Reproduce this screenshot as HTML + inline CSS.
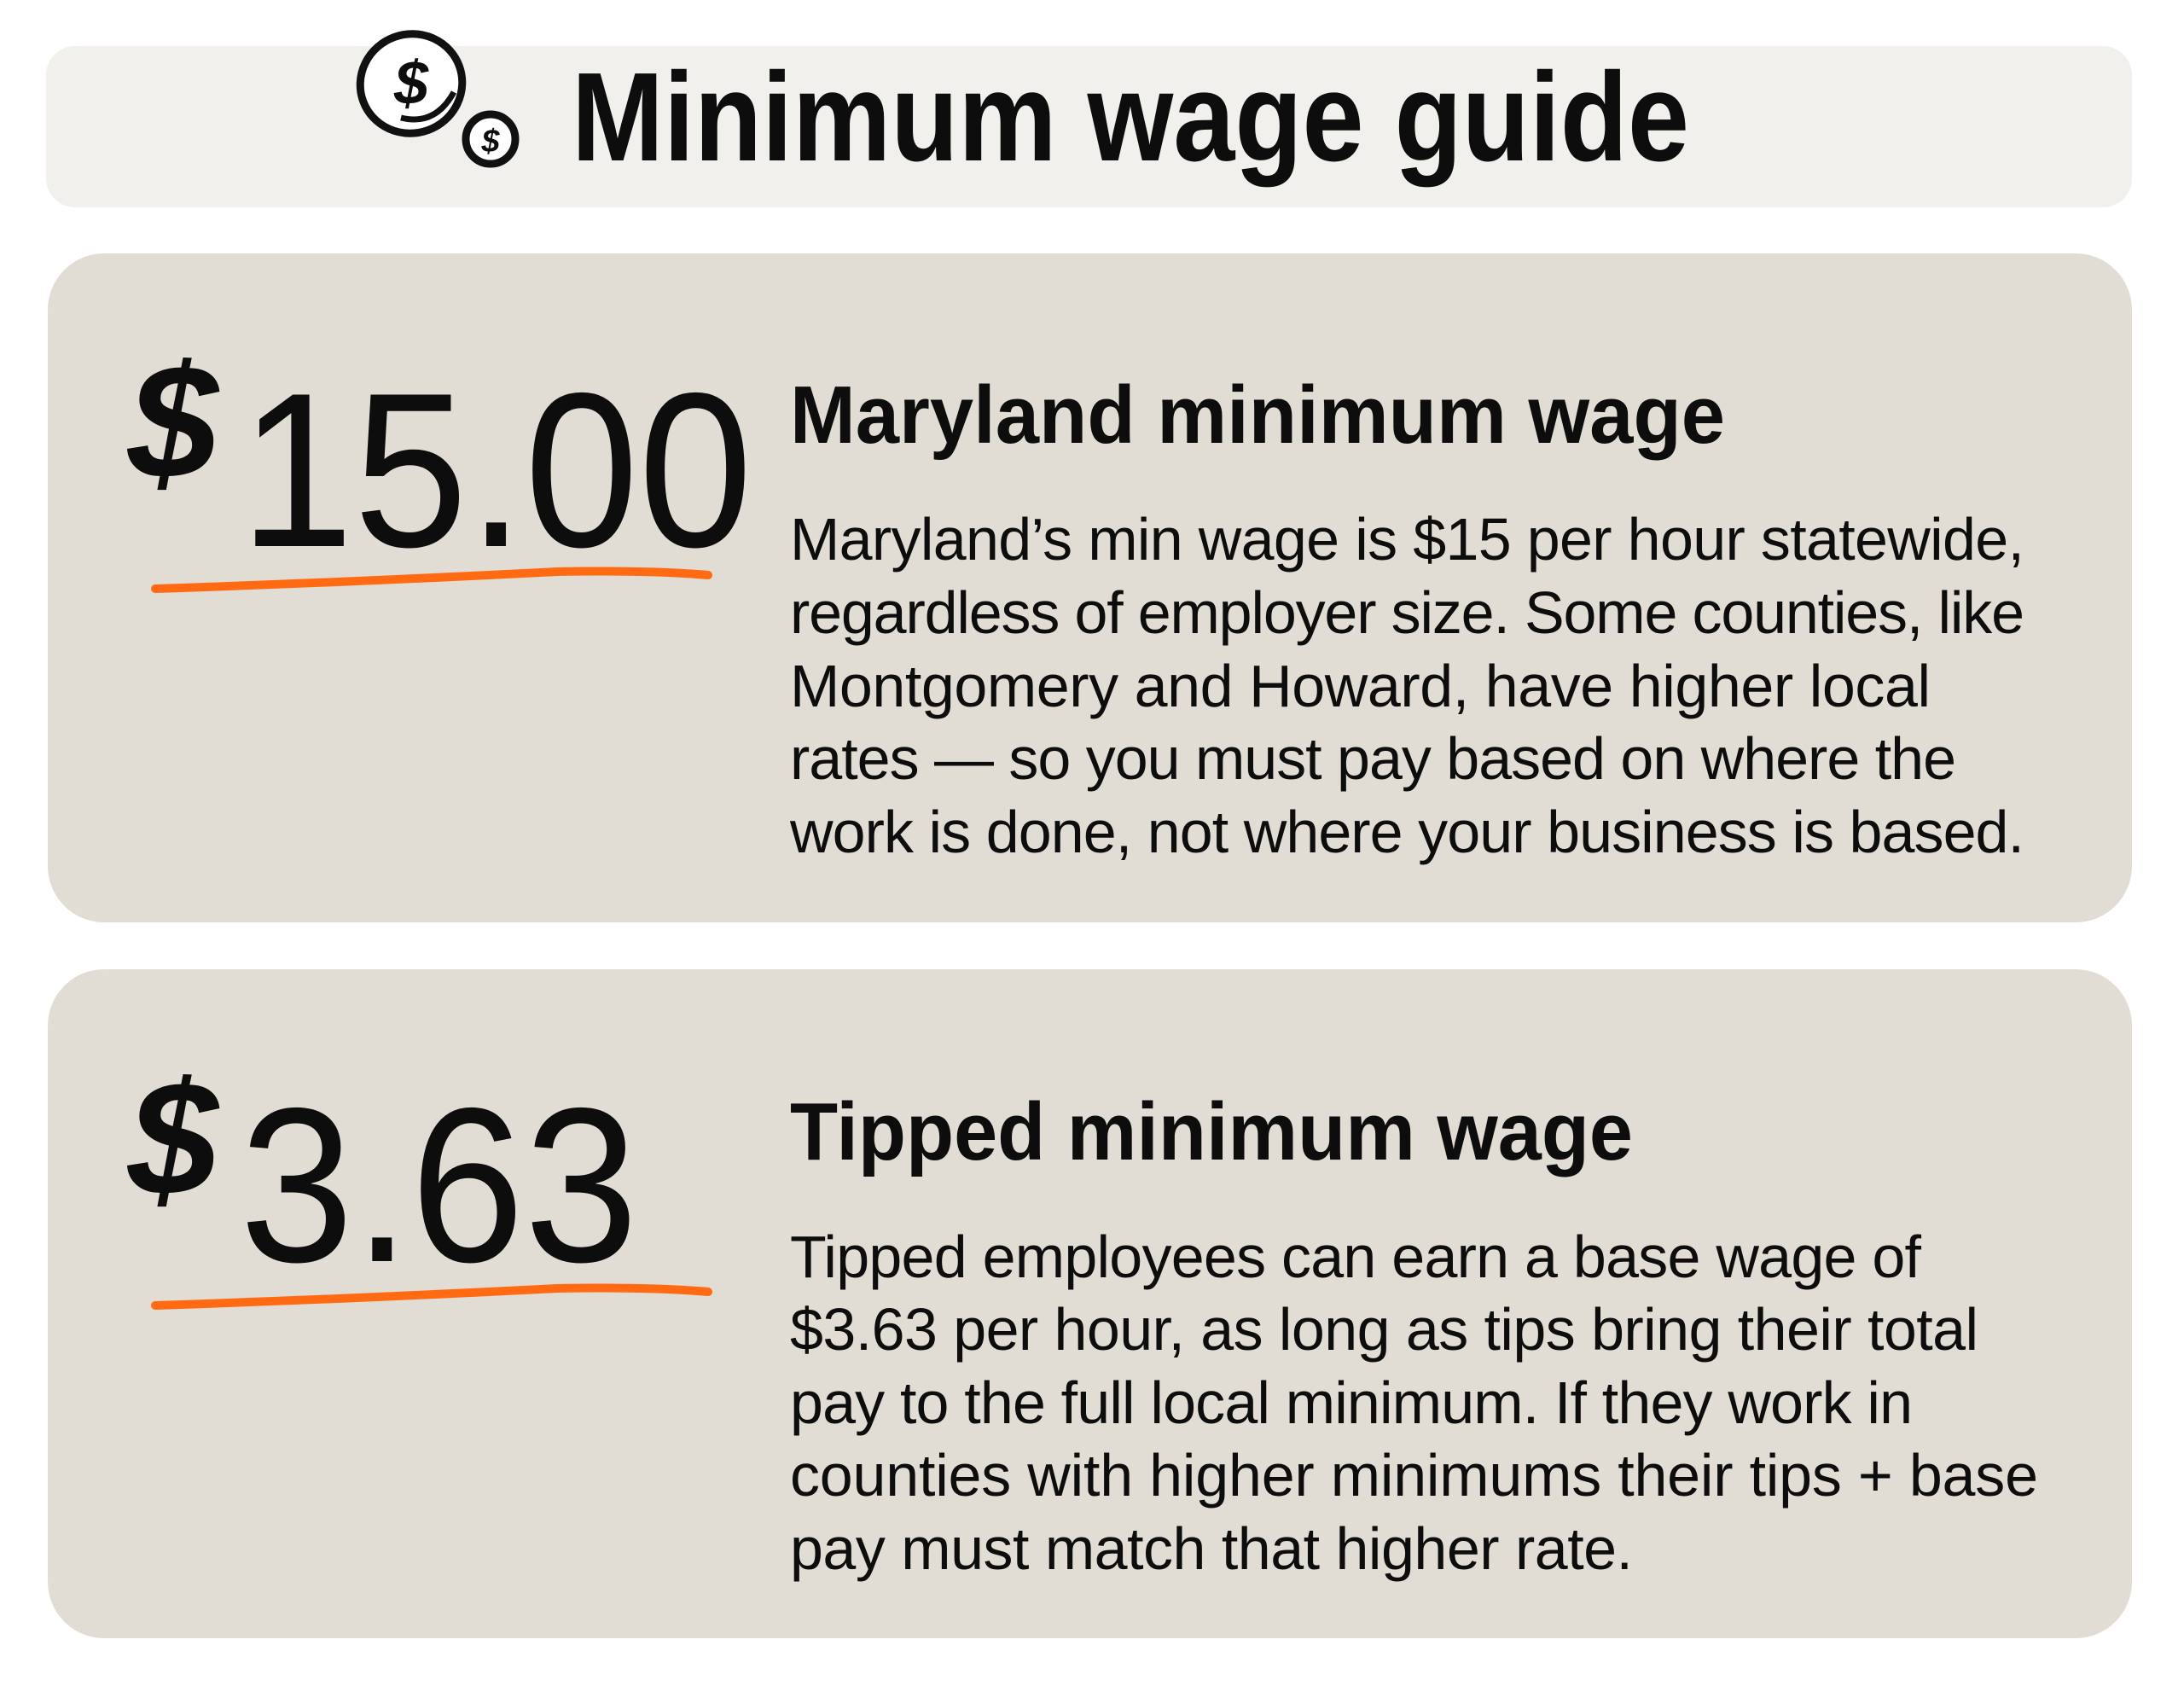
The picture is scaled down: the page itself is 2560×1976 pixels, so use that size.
<!DOCTYPE html>
<html><head><meta charset="utf-8"><style>
html,body{margin:0;padding:0;background:#fff;}
svg{display:block}
text{font-family:"Liberation Sans",sans-serif;fill:#0d0d0d}
</style></head><body>
<svg width="2560" height="1976" viewBox="0 0 2560 1976" xmlns="http://www.w3.org/2000/svg">
<rect x="0" y="0" width="2560" height="1976" fill="#ffffff"/>
<rect x="54" y="54" width="2445" height="189" rx="34" fill="#f1f0ec"/>
<rect x="56" y="297" width="2443" height="784" rx="66" fill="#e1ddd5"/>
<rect x="56" y="1136" width="2443" height="784" rx="66" fill="#e1ddd5"/>

<!-- coins -->
<g fill="none" stroke="#111" stroke-width="9">
<ellipse cx="482" cy="98" rx="60" ry="58" fill="#fff" transform="rotate(-20 482 98)"/>
<path d="M470 138 q40 10 62-30" stroke-width="7"/>
<circle cx="575" cy="163" r="29" fill="#fff"/>
</g>
<text x="482" y="122" font-size="72" font-weight="bold" text-anchor="middle" font-style="italic">$</text>
<text x="575" y="178" font-size="38" font-weight="bold" text-anchor="middle" font-style="italic">$</text>

<text x="670" y="188" font-size="148" font-weight="bold" textLength="1310" lengthAdjust="spacingAndGlyphs">Minimum wage guide</text>

<!-- card 1 -->
<text x="150" y="560" font-size="190" font-family="Liberation Serif" font-style="italic" font-weight="bold">$</text>
<text x="281" y="640" font-size="258" textLength="601" lengthAdjust="spacingAndGlyphs">15.00</text>
<path d="M182 690 Q420 682 653 670 Q760 668 830 674" stroke="#ff6a13" stroke-width="10" fill="none" stroke-linecap="round"/>
<text x="926" y="519" font-size="96" font-weight="bold" textLength="1096" lengthAdjust="spacingAndGlyphs">Maryland minimum wage</text>
<g font-size="70" lengthAdjust="spacingAndGlyphs">
<text x="926" y="656" textLength="1447">Maryland’s min wage is $15 per hour statewide,</text>
<text x="926" y="742" textLength="1447">regardless of employer size. Some counties, like</text>
<text x="926" y="828" textLength="1337">Montgomery and Howard, have higher local</text>
<text x="926" y="913" textLength="1367">rates — so you must pay based on where the</text>
<text x="926" y="999" textLength="1447">work is done, not where your business is based.</text>
</g>

<!-- card 2 -->
<text x="150" y="1400" font-size="190" font-family="Liberation Serif" font-style="italic" font-weight="bold">$</text>
<text x="281" y="1478" font-size="258" textLength="467" lengthAdjust="spacingAndGlyphs">3.63</text>
<path d="M182 1530 Q420 1522 653 1510 Q760 1508 830 1514" stroke="#ff6a13" stroke-width="10" fill="none" stroke-linecap="round"/>
<text x="926" y="1359" font-size="96" font-weight="bold" textLength="988" lengthAdjust="spacingAndGlyphs">Tipped minimum wage</text>
<g font-size="70" lengthAdjust="spacingAndGlyphs">
<text x="926" y="1497" textLength="1326">Tipped employees can earn a base wage of</text>
<text x="926" y="1582" textLength="1393">$3.63 per hour, as long as tips bring their total</text>
<text x="926" y="1668" textLength="1316">pay to the full local minimum. If they work in</text>
<text x="926" y="1753" textLength="1463">counties with higher minimums their tips + base</text>
<text x="926" y="1839" textLength="988">pay must match that higher rate.</text>
</g>
</svg>
</body></html>
